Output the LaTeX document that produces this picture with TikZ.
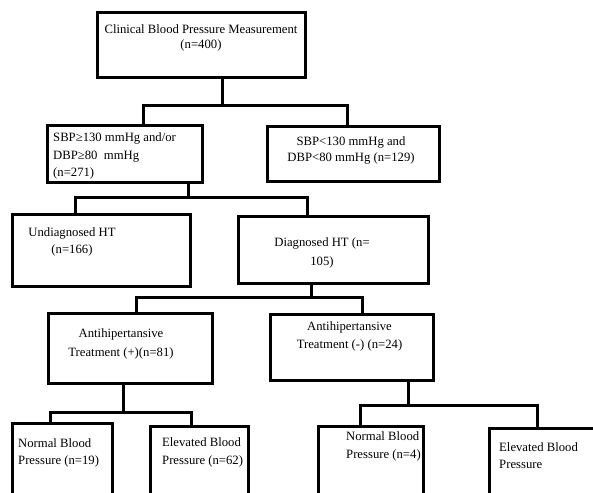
\documentclass[tikz,border=0pt]{standalone}
\usepackage{fontspec}
\setmainfont{Liberation Serif}
\usetikzlibrary{calc}

\begin{document}
\begin{tikzpicture}[
  x=1pt, y=-1pt,
  box/.style={rectangle, draw=black, line width=3pt, inner sep=0pt},
  txt/.style={font=\fontsize{12.7}{15}\selectfont, inner sep=0pt, text=black},
  link/.style={draw=black, line width=3pt},
]
  \clip (0,0) rectangle (593,492);
  \fill[white] (0,0) rectangle (593,492);

  % --- Whole sample ---
  \node[box, minimum width=208pt, minimum height=65pt] (clinical) at (201,45.5) {};
  \node[txt, align=center] (clinicallbl) at (201,37.5) {Clinical Blood Pressure Measurement\\(n=400)};

  % --- Measured pressure ---
  \node[box, minimum width=155pt, minimum height=57pt] (high) at (124.5,153.5) {};
  \node[txt, align=left, anchor=west] (highlbl) at (53,156) {SBP≥130 mmHg and/or\\[3pt]DBP≥80~ mmHg\\[2pt](n=271)};
  \node[box, minimum width=172pt, minimum height=55pt] (low) at (353,153.5) {};
  \node[txt, align=center] (lowlbl) at (351,150) {SBP<130 mmHg and\\[1pt]DBP<80 mmHg (n=129)};

  % --- Diagnosis ---
  \node[box, minimum width=178pt, minimum height=72pt] (undiag) at (101,250) {};
  \node[txt, align=center] (undiaglbl) at (72,241.5) {Undiagnosed HT\\[2pt](n=166)};
  \node[box, minimum width=190pt, minimum height=67pt] (diag) at (333,249.5) {};
  \node[txt, align=center] (diaglbl) at (322,252.5) {Diagnosed HT (n=\\[4pt]105)};

  % --- Treatment ---
  \node[box, minimum width=164pt, minimum height=70pt] (treatpos) at (130,348) {};
  \node[txt, align=center] (treatposlbl) at (121,343.5) {Antihipertansive\\[4pt]Treatment (+)(n=81)};
  \node[box, minimum width=163pt, minimum height=66pt] (treatneg) at (351.5,347) {};
  \node[txt, align=center] (treatneglbl) at (349.5,336) {Antihipertansive\\[3pt]Treatment (-) (n=24)};

  % --- Blood pressure under treatment (boxes run past the bottom edge) ---
  \node[box, minimum width=100pt, minimum height=97pt] (normpos) at (62,471.5) {};
  \node[txt, align=left, anchor=west] (normposlbl) at (18,452.5) {Normal Blood\\[2pt]Pressure (n=19)};
  \node[box, minimum width=98pt, minimum height=94pt] (elevpos) at (199,473) {};
  \node[txt, align=left, anchor=west] (elevposlbl) at (162,452) {Elevated Blood\\[3pt]Pressure (n=62)};
  \node[box, minimum width=105pt, minimum height=94pt] (normneg) at (370.5,473) {};
  \node[txt, align=left, anchor=west] (normneglbl) at (346,446) {Normal Blood\\[3pt]Pressure (n=4)};
  \node[box, minimum width=131pt, minimum height=92pt] (elevneg) at (554.5,474) {};
  \node[txt, align=left, anchor=west] (elevneglbl) at (499,455.5) {Elevated Blood\\[2pt]Pressure};

  % --- Connectors ---
  \coordinate (j1) at (222,105);
  \draw[link] (clinical.south -| j1) -- (j1);
  \draw[link] ([xshift=18.5pt]high.north) |- (j1) -| ([xshift=-6pt]low.north);

  \coordinate (j2) at (188,197);
  \draw[link] (high.south -| j2) -- (j2);
  \draw[link] ([xshift=-26pt]undiag.north) |- (j2) -| ([xshift=-26pt]diag.north);

  \coordinate (j3) at (311,297);
  \draw[link] (diag.south -| j3) -- (j3);
  \draw[link] ([xshift=6pt]treatpos.north) |- (j3) -| ([xshift=10.5pt]treatneg.north);

  \coordinate (j4) at (123,412);
  \draw[link] (treatpos.south -| j4) -- (j4);
  \draw[link] ([xshift=-12pt]normpos.north) |- (j4) -| ([xshift=-8pt]elevpos.north);

  \coordinate (j5) at (408,405);
  \draw[link] (treatneg.south -| j5) -- (j5);
  \draw[link] ([xshift=-10.5pt]normneg.north) |- (j5) -| ([xshift=-17.5pt]elevneg.north);

\end{tikzpicture}
\end{document}
